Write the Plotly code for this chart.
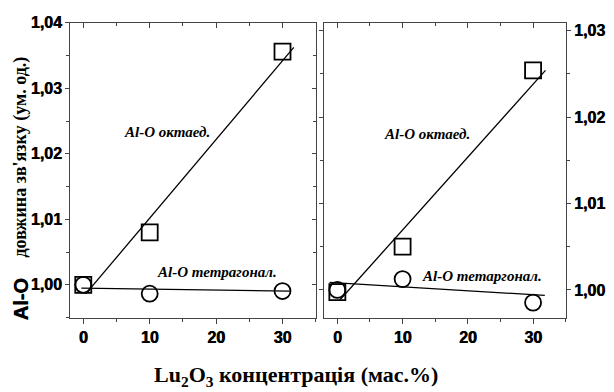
import plotly.graph_objects as go

# ---- data ----
conc = [0, 10, 30]
left_octa = [1.0000, 1.0080, 1.0356]
left_tetra = [1.0000, 0.99865, 0.99905]
right_octa = [0.99975, 1.0050, 1.0254]
right_tetra = [1.0000, 1.00125, 0.99853]

left_octa_fit_x = [0.4, 31.7]
left_octa_fit_y = [0.99865, 1.03626]
left_tetra_fit_x = [-0.3, 31.1]
left_tetra_fit_y = [0.9995, 0.99905]
right_octa_fit_x = [0.35, 31.9]
right_octa_fit_y = [0.9988, 1.0254]
right_tetra_fit_x = [-1.2, 31.8]
right_tetra_fit_y = [1.00087, 0.99937]

x_ticks = [0, 10, 20, 30]
left_y_ticks = [1.00, 1.01, 1.02, 1.03, 1.04]
right_y_ticks = [1.00, 1.01, 1.02, 1.03]

# page body has an 8px default margin: lay out in page pixels, shifted by OFF
OFF = 8
W, H = 614 - OFF, 392 - OFF
SERIF = "Liberation Serif, Times New Roman, serif"
SANS = "Liberation Sans, Arial, sans-serif"
AX = "#444444"
HEAVY = "0.6px 0px 0px black"

def px(x):
    return (x - OFF) / W

def py(y):
    return 1 - (y - OFF) / H

def fmt_x(v):
    return "<b>%d</b>" % v

def fmt_y(v):
    return "<b>" + ("%.2f" % v).replace(".", ",") + "</b>"

fig = go.Figure()

def add_panel(xa, ya, octa, tetra, ofx, ofy, tfx, tfy):
    fig.add_trace(go.Scatter(x=ofx, y=ofy, mode="lines", line=dict(color="black", width=1.3),
                             xaxis=xa, yaxis=ya, showlegend=False, hoverinfo="skip"))
    fig.add_trace(go.Scatter(x=tfx, y=tfy, mode="lines", line=dict(color="black", width=1.3),
                             xaxis=xa, yaxis=ya, showlegend=False, hoverinfo="skip"))
    fig.add_trace(go.Scatter(x=conc, y=octa, mode="markers",
                             marker=dict(symbol="square-open", size=16, color="black", line=dict(width=1.8)),
                             xaxis=xa, yaxis=ya, showlegend=False))
    fig.add_trace(go.Scatter(x=conc, y=tetra, mode="markers",
                             marker=dict(symbol="circle-open", size=16, color="black", line=dict(width=1.8)),
                             xaxis=xa, yaxis=ya, showlegend=False))

add_panel("x", "y", left_octa, left_tetra, left_octa_fit_x, left_octa_fit_y, left_tetra_fit_x, left_tetra_fit_y)
add_panel("x2", "y2", right_octa, right_tetra, right_octa_fit_x, right_octa_fit_y, right_tetra_fit_x, right_tetra_fit_y)

# invisible traces to hold the mirror (frame) axes
for xa, ya in [("x3", "y3"), ("x4", "y4")]:
    fig.add_trace(go.Scatter(x=[0], y=[1.0], mode="markers", marker=dict(opacity=0),
                             xaxis=xa, yaxis=ya, showlegend=False, hoverinfo="skip"))

xdomL = [px(70), px(315.7)]
xdomR = [px(324.3), px(565.7)]
ydom = [py(316), py(15)]
xr = [-2, 35]
yrL = [0.995, 1.04]
yrR = [0.9968, 1.0309]

tickfont = dict(family=SANS, size=16, color="black", shadow=HEAVY)

def xbase(domain, anchor):
    return dict(domain=domain, range=xr, anchor=anchor, showgrid=False, zeroline=False,
                showline=True, linecolor=AX, linewidth=1,
                tickvals=x_ticks, ticktext=[fmt_x(v) for v in x_ticks],
                ticks="outside", ticklen=5, tickcolor=AX, tickwidth=1,
                minor=dict(dtick=5, tick0=0, ticks="outside", ticklen=3, tickcolor=AX),
                tickfont=tickfont, ticklabeloverflow="allow")

def xtop(domain, over, anchor):
    return dict(domain=domain, range=xr, overlaying=over, anchor=anchor, side="top",
                showgrid=False, zeroline=False, showline=True, linecolor=AX, linewidth=1,
                tickvals=x_ticks, ticks="inside", ticklen=5, tickcolor=AX,
                minor=dict(dtick=5, tick0=0, ticks="inside", ticklen=3, tickcolor=AX),
                showticklabels=False)

def ybase(rng, side, anchor, tv, labels=True, ticks="outside", over=None):
    d = dict(domain=ydom, range=rng, anchor=anchor, side=side, showgrid=False, zeroline=False,
             showline=True, linecolor=AX, linewidth=1,
             tickvals=tv, ticktext=[fmt_y(v) for v in tv],
             ticks=ticks, ticklen=4, tickcolor=AX,
             minor=dict(dtick=0.005, tick0=1.0, ticks=ticks, ticklen=3, tickcolor=AX),
             showticklabels=labels, tickfont=tickfont, ticklabeloverflow="allow")
    if over:
        d["overlaying"] = over
    return d

fig.update_layout(
    width=W, height=H,
    margin=dict(l=0, r=0, t=0, b=0),
    paper_bgcolor="white", plot_bgcolor="white",
    xaxis=xbase(xdomL, "y"),
    yaxis=ybase(yrL, "left", "x", left_y_ticks),
    xaxis2=xbase(xdomR, "y2"),
    yaxis2=ybase(yrR, "right", "x2", right_y_ticks),
    xaxis3=xtop(xdomL, "x", "y3"),
    yaxis3=ybase(yrL, "right", "x3", left_y_ticks, labels=False, ticks="inside", over="y"),
    xaxis4=xtop(xdomR, "x2", "y4"),
    yaxis4=ybase(yrR, "left", "x4", right_y_ticks, labels=False, ticks="outside", over="y2"),
)

lab_font = dict(family=SERIF, size=15, color="black")
annots = [
    ("x", "y", 12.6, 1.0233, "<b><i>Al-O октаед.</i></b>"),
    ("x", "y", 20.2, 1.0019, "<b><i>Al-O тетрагонал.</i></b>"),
    ("x2", "y2", 13.8, 1.01805, "<b><i>Al-O октаед.</i></b>"),
    ("x2", "y2", 22.1, 1.00163, "<b><i>Al-O тетаргонал.</i></b>"),
]
for xr_, yr_, x, y, t in annots:
    fig.add_annotation(x=x, y=y, xref=xr_, yref=yr_, text=t, showarrow=False,
                       xanchor="center", yanchor="middle", font=dict(lab_font))

# y-axis title: sans "Al-O" plus serif remainder
fig.add_annotation(
    x=px(21), y=py(297.5), xref="paper", yref="paper", textangle=-90, showarrow=False,
    xanchor="center", yanchor="middle",
    text="<b>Al-O</b>", font=dict(family=SANS, size=20, color="black", shadow=HEAVY),
)
fig.add_annotation(
    x=px(19.5), y=py(152), xref="paper", yref="paper", textangle=-90, showarrow=False,
    xanchor="center", yanchor="middle",
    text="<b>довжина зв'язку (ум. од.)</b>", font=dict(family=SERIF, size=18, color="black"),
)
fig.add_annotation(
    x=px(296), y=py(376), xref="paper", yref="paper", showarrow=False,
    xanchor="center", yanchor="middle",
    text="<b>Lu<sub>2</sub>O<sub>3</sub> концентрація (мас.%)</b>",
    font=dict(family=SERIF, size=22, color="black"),
)

fig.write_html("out.html")
